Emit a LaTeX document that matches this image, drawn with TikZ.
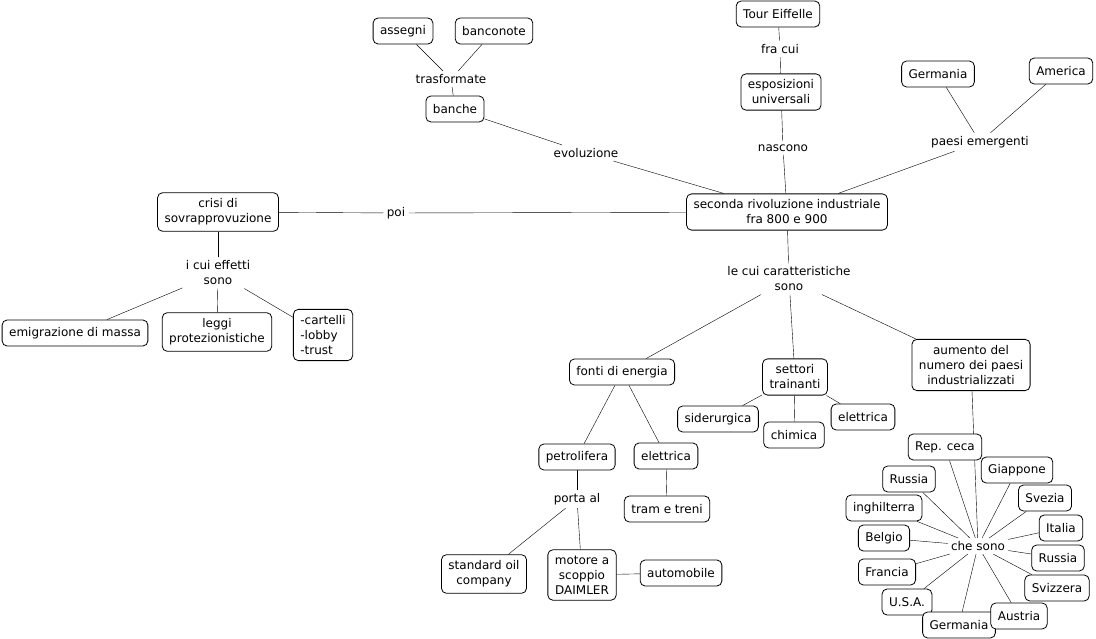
\documentclass[tikz,border=0pt]{standalone}
\usepackage{fontspec}
\setmainfont{DejaVu Sans}
\usepackage{tikz}
\usetikzlibrary{backgrounds}

\begin{document}
\begin{tikzpicture}[x=1pt,y=-1pt,line width=0.8pt,
    every node/.style={font=\fontsize{12}{15}\selectfont},
    concept/.style={draw,rounded corners=5pt,fill=white,align=center,
      inner xsep=7pt,inner ysep=6pt,minimum height=26pt},
    link/.style={align=center,inner sep=3pt}]
        \useasboundingbox (0,0) rectangle (1096,639);
        \node[concept] (assegni) at (403,31) {assegni};
        \node[concept] (banconote) at (494,31) {banconote};
        \node[link] (trasf) at (451,79) {trasformate};
        \node[concept] (banche) at (455,109) {banche};
        \node[link] (evol) at (586,153) {evoluzione};
        \node[concept] (tour) at (778,14) {Tour Eiffelle};
        \node[link] (fracui) at (780,49) {fra cui};
        \node[concept] (espos) at (781,92) {esposizioni\\universali};
        \node[link] (nascono) at (783,148) {nascono};
        \node[concept] (germ) at (938,74) {Germania};
        \node[concept] (america) at (1061,71) {America};
        \node[link] (paesi) at (980,142) {paesi emergenti};
        \node[concept] (seconda) at (787,212)
          {seconda rivoluzione industriale\\fra 800 e 900};
        \node[link] (poi) at (396,213) {poi};
        \node[concept] (crisi) at (218,212) {crisi di\\sovrapprovuzione};
        \node[link] (effetti) at (218,273) {i cui effetti\\sono};
        \node[concept] (emigr) at (75,333) {emigrazione di massa};
        \node[concept] (leggi) at (217,332) {leggi\\protezionistiche};
        \node[concept,align=left] (cartelli) at (323,335) {-cartelli\\-lobby\\-trust};
        \node[link] (carat) at (789,279) {le cui caratteristiche\\sono};
        \node[concept] (fonti) at (622,372) {fonti di energia};
        \node[concept] (settori) at (795,377) {settori\\trainanti};
        \node[concept] (aumento) at (971,365)
          {aumento del\\numero dei paesi\\industrializzati};
        \node[concept] (sider) at (718,419) {siderurgica};
        \node[concept] (chimica) at (794,435) {chimica};
        \node[concept] (elettrB) at (863,417) {elettrica};
        \node[concept] (petrol) at (577,457) {petrolifera};
        \node[concept] (elettrA) at (666,456) {elettrica};
        \node[link] (portaal) at (577,499) {porta al};
        \node[concept] (tram) at (667,509) {tram e treni};
        \node[concept] (standard) at (484,574) {standard oil\\company};
        \node[concept] (motore) at (582,575) {motore a\\scoppio\\DAIMLER};
        \node[concept] (auto) at (681,573) {automobile};
        \node[link] (chesono) at (978,546) {che sono};
        \node[concept] (ceca) at (945,447) {Rep. ceca};
        \node[concept] (giappone) at (1017,470) {Giappone};
        \node[concept] (russiaA) at (909,479) {Russia};
        \node[concept] (svezia) at (1045,498) {Svezia};
        \node[concept] (inghil) at (884,508) {inghilterra};
        \node[concept] (italia) at (1061,528) {Italia};
        \node[concept] (belgio) at (884,538) {Belgio};
        \node[concept] (russiaB) at (1058,558) {Russia};
        \node[concept] (francia) at (887,572) {Francia};
        \node[concept] (svizzera) at (1057,588) {Svizzera};
        \node[concept] (usa) at (907,602) {U.S.A.};
        \node[concept] (germB) at (959,625) {Germania};
        \node[concept] (austria) at (1019,616) {Austria};
        \begin{scope}[on background layer]
          \draw (trasf) edge (assegni) edge (banconote) edge (banche);
          \draw (evol) edge (banche) edge (seconda);
          \draw (fracui) edge (tour) edge (espos);
          \draw (nascono) edge (espos) edge (seconda);
          \draw (paesi) edge (germ) edge (america) edge (seconda);
          \draw (poi) edge (crisi) edge (seconda);
          \draw (effetti) edge (crisi) edge (emigr) edge (leggi) edge (cartelli);
          \draw (carat) edge (seconda) edge (fonti) edge (settori) edge (aumento);
          \draw (settori) edge (sider) edge (chimica) edge (elettrB);
          \draw (fonti) edge (petrol) edge (elettrA);
          \draw (elettrA) -- (tram);
          \draw (portaal) edge (petrol) edge (standard) edge (motore);
          \draw (motore) -- (auto);
          \draw (aumento) -- (chesono);
          \foreach \c in {ceca,giappone,russiaA,svezia,inghil,italia,belgio,
                          russiaB,francia,svizzera,usa,germB,austria}{
            \draw (chesono) -- (\c);}
        \end{scope}
      \end{tikzpicture}
\end{document}
